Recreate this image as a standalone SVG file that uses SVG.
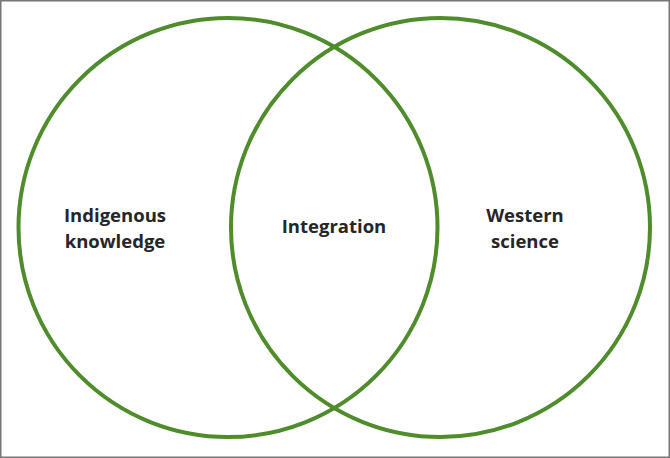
<svg xmlns="http://www.w3.org/2000/svg" width="670" height="458" viewBox="0 0 670 458">
<style>
.ring{fill:none;stroke:#4f8c2c;stroke-width:4}
.lbl{font-family:"Open Sans","Liberation Sans",sans-serif;font-weight:bold;font-size:18.5px;fill:#262626;text-anchor:middle}
</style>
<rect x="0" y="0" width="670" height="458" fill="#ffffff"/>
<rect x="0.75" y="0.75" width="668.5" height="456.5" fill="none" stroke="#777777" stroke-width="1.5"/>
<g id="connectors"></g>
<g id="indigenous">
<circle class="ring" cx="228" cy="227.5" r="209.5"/>
<text class="lbl" x="115" y="222">Indigenous</text>
<text class="lbl" x="115" y="248">knowledge</text>
</g>
<g id="western">
<circle class="ring" cx="440.5" cy="227.5" r="209.5"/>
<text class="lbl" x="525" y="222">Western</text>
<text class="lbl" x="525" y="248">science</text>
</g>
<g id="integration">
<text class="lbl" x="334" y="233">Integration</text>
</g>
</svg>
